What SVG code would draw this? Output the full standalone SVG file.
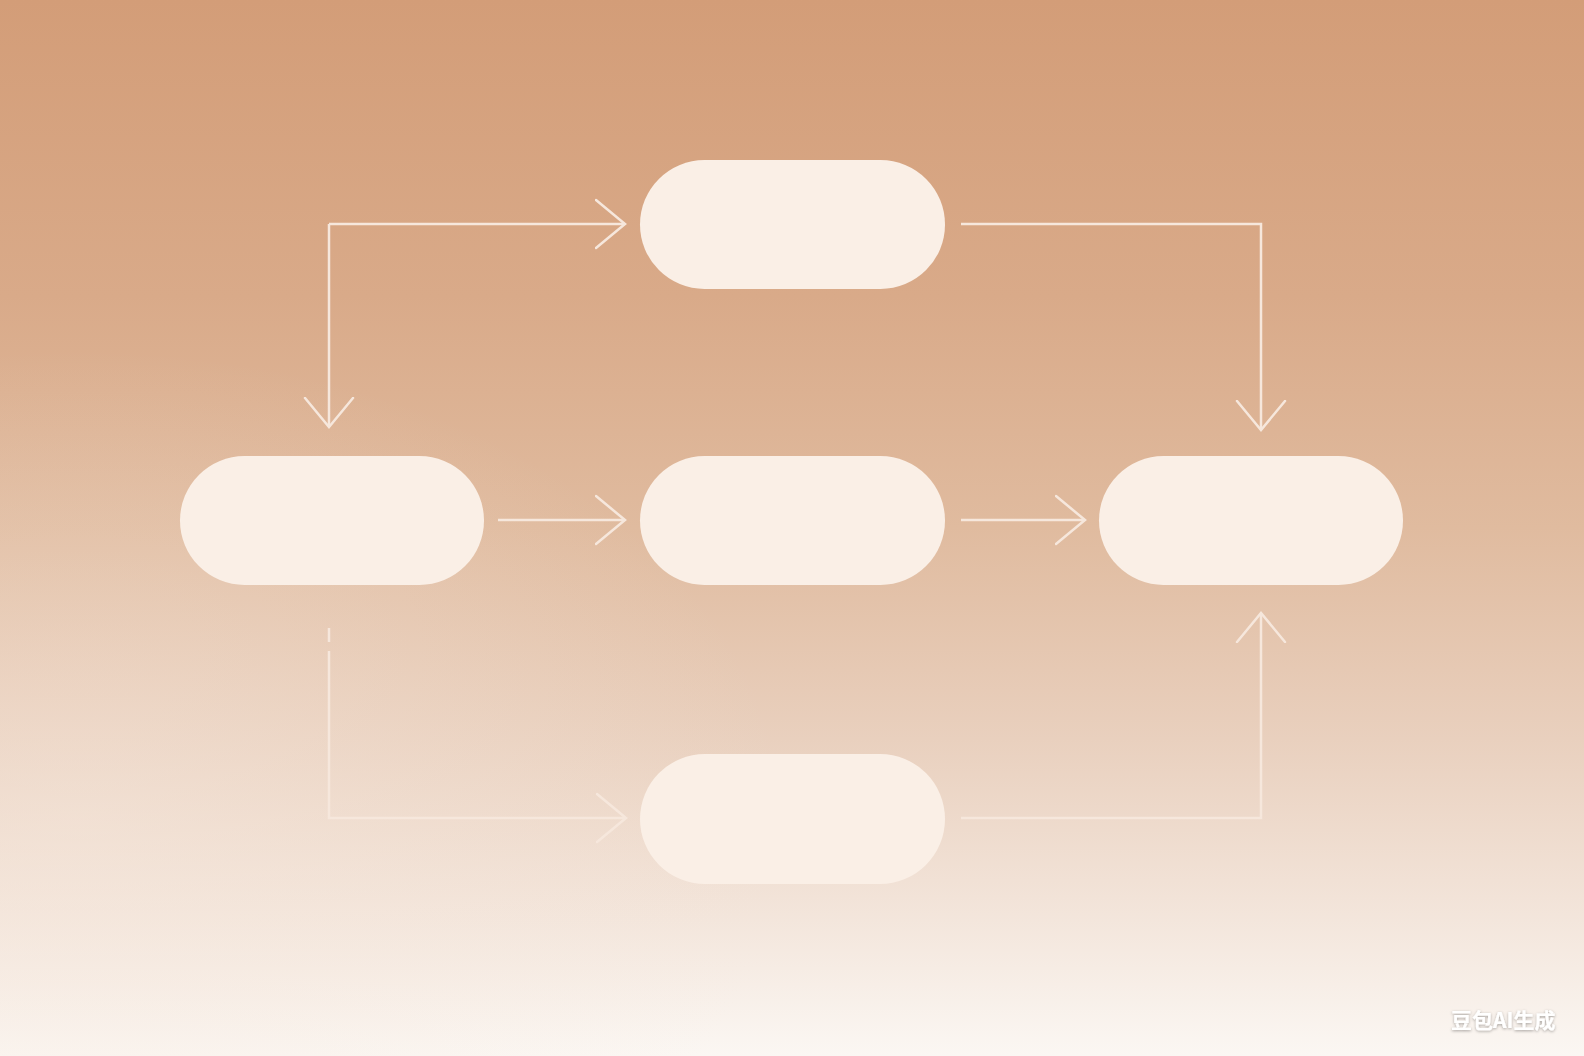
<svg xmlns="http://www.w3.org/2000/svg" width="1584" height="1056" viewBox="0 0 1584 1056">
  <defs>
    <linearGradient id="bg" x1="0" y1="0" x2="0" y2="1">
      <stop offset="0" stop-color="#d39d78"/>
      <stop offset="0.28" stop-color="#d9aa89"/>
      <stop offset="0.5" stop-color="#e0bb9f"/>
      <stop offset="0.7" stop-color="#e9d0be"/>
      <stop offset="0.85" stop-color="#f2e3d8"/>
      <stop offset="1" stop-color="#fbf7f3"/>
    </linearGradient>
    <radialGradient id="glow" cx="0.05" cy="0.78" r="0.45">
      <stop offset="0" stop-color="#f6e8dd" stop-opacity="0.45"/>
      <stop offset="1" stop-color="#f6e8dd" stop-opacity="0"/>
    </radialGradient>
    <marker id="arrow" viewBox="0 0 32 52" refX="30" refY="26" markerWidth="32" markerHeight="52" markerUnits="userSpaceOnUse" orient="auto">
      <path d="M1,2 L30,26 L1,50" fill="none" stroke="#f6e7dc" stroke-width="2.5" stroke-linecap="round" stroke-linejoin="miter"/>
    </marker>
    <filter id="shadow" x="-10%" y="-30%" width="120%" height="160%">
      <feDropShadow dx="0" dy="1" stdDeviation="1.5" flood-color="#000" flood-opacity="0.35"/>
    </filter>
  </defs>
  <style>
    .node { fill: #faefe6; }
    .edge { fill: none; stroke: #f6e7dc; stroke-width: 2.5; marker-end: url(#arrow); }
    .edge2 { fill: none; stroke: #f6e7dc; stroke-width: 2.5; }
    .wm { font-family: "Noto Sans CJK SC", "Liberation Sans", sans-serif; font-weight: 700; font-size: 21px; fill: #ffffff; }
  </style>

  <rect x="0" y="0" width="1584" height="1056" fill="url(#bg)"/>
  <rect x="0" y="0" width="1584" height="1056" fill="url(#glow)"/>

  <g id="connectors">
    <path class="edge" d="M329,224 L329,427" />
    <path class="edge" d="M329,224 L625,224" />
    <path class="edge" d="M961,224 L1261,224 L1261,430" />
    <path class="edge" d="M498,520 L625,520" />
    <path class="edge" d="M961,520 L1085,520" />
    <path class="edge2" d="M329,628 L329,642" />
    <path class="edge" d="M329,651 L329,818 L626,818" />
    <path class="edge" d="M961,818 L1261,818 L1261,613" />
  </g>

  <g id="node-top">
    <rect class="node" x="640" y="160" width="305" height="129" rx="64.5"/>
  </g>
  <g id="node-left">
    <rect class="node" x="180" y="456" width="304" height="129" rx="64.5"/>
  </g>
  <g id="node-center">
    <rect class="node" x="640" y="456" width="305" height="129" rx="64.5"/>
  </g>
  <g id="node-right">
    <rect class="node" x="1099" y="456" width="304" height="129" rx="64.5"/>
  </g>
  <g id="node-bottom">
    <rect class="node" x="640" y="754" width="305" height="130" rx="65"/>
  </g>

  <text class="wm" x="1451" y="1028" filter="url(#shadow)">豆包AI生成</text>
</svg>
